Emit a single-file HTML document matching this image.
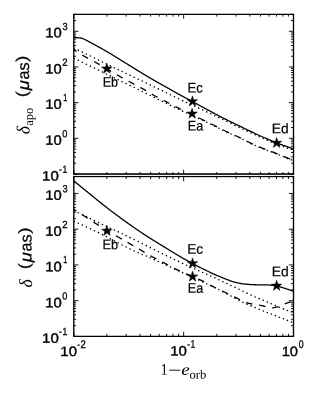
<!DOCTYPE html>
<html><head><meta charset="utf-8"><title>chart</title>
<style>
html,body{margin:0;padding:0;background:#fff;}
body{width:320px;height:400px;overflow:hidden;font-family:"Liberation Sans",sans-serif;}
svg{display:block;will-change:transform;}
text{font-kerning:none;}
</style></head><body>
<svg width="320" height="400" viewBox="0 0 320 400">
<defs>
<clipPath id="c1"><rect x="73.80" y="14.30" width="219.70" height="159.65"/></clipPath>
<clipPath id="c2"><rect x="73.80" y="176.40" width="219.70" height="160.00"/></clipPath>
</defs>
<rect width="320" height="400" fill="#fff"/>
<g clip-path="url(#c1)">
<path d="M73.80 37.50 L74.35 37.53 L74.90 37.57 L75.45 37.60 L76.00 37.64 L76.56 37.68 L77.11 37.73 L77.66 37.77 L78.21 37.82 L78.76 37.86 L79.31 37.91 L79.86 37.96 L80.41 38.02 L80.96 38.09 L81.51 38.21 L82.07 38.37 L82.62 38.56 L83.17 38.76 L83.72 38.99 L84.27 39.25 L84.82 39.51 L85.37 39.78 L85.92 40.07 L86.47 40.37 L87.02 40.66 L87.58 40.95 L88.13 41.24 L88.68 41.53 L89.23 41.83 L89.78 42.12 L90.33 42.41 L90.88 42.70 L91.43 43.00 L91.98 43.29 L92.53 43.59 L93.09 43.88 L93.64 44.18 L94.19 44.47 L94.74 44.77 L95.29 45.07 L95.84 45.37 L96.39 45.67 L96.94 45.97 L97.49 46.27 L98.04 46.58 L98.60 46.88 L99.15 47.19 L99.70 47.50 L100.25 47.81 L100.80 48.12 L101.35 48.43 L101.90 48.74 L102.45 49.06 L103.00 49.37 L103.55 49.69 L104.11 50.01 L104.66 50.33 L105.21 50.65 L105.76 50.96 L106.31 51.29 L106.86 51.61 L107.41 51.93 L107.96 52.25 L108.51 52.58 L109.06 52.90 L109.62 53.23 L110.17 53.56 L110.72 53.88 L111.27 54.21 L111.82 54.54 L112.37 54.87 L112.92 55.20 L113.47 55.54 L114.02 55.87 L114.57 56.21 L115.13 56.55 L115.68 56.89 L116.23 57.23 L116.78 57.57 L117.33 57.91 L117.88 58.25 L118.43 58.59 L118.98 58.93 L119.53 59.27 L120.08 59.61 L120.64 59.96 L121.19 60.30 L121.74 60.64 L122.29 60.98 L122.84 61.32 L123.39 61.66 L123.94 62.00 L124.49 62.34 L125.04 62.68 L125.59 63.03 L126.15 63.37 L126.70 63.71 L127.25 64.05 L127.80 64.40 L128.35 64.74 L128.90 65.08 L129.45 65.42 L130.00 65.76 L130.55 66.11 L131.10 66.45 L131.66 66.79 L132.21 67.13 L132.76 67.47 L133.31 67.81 L133.86 68.15 L134.41 68.49 L134.96 68.83 L135.51 69.17 L136.06 69.51 L136.61 69.85 L137.17 70.19 L137.72 70.53 L138.27 70.87 L138.82 71.21 L139.37 71.55 L139.92 71.89 L140.47 72.22 L141.02 72.56 L141.57 72.89 L142.12 73.23 L142.68 73.56 L143.23 73.89 L143.78 74.22 L144.33 74.55 L144.88 74.89 L145.43 75.22 L145.98 75.55 L146.53 75.88 L147.08 76.20 L147.63 76.53 L148.19 76.86 L148.74 77.19 L149.29 77.51 L149.84 77.84 L150.39 78.16 L150.94 78.48 L151.49 78.80 L152.04 79.12 L152.59 79.44 L153.14 79.76 L153.70 80.08 L154.25 80.40 L154.80 80.71 L155.35 81.03 L155.90 81.34 L156.45 81.66 L157.00 81.97 L157.55 82.28 L158.10 82.60 L158.65 82.91 L159.21 83.22 L159.76 83.53 L160.31 83.84 L160.86 84.15 L161.41 84.46 L161.96 84.77 L162.51 85.08 L163.06 85.39 L163.61 85.70 L164.16 86.01 L164.72 86.32 L165.27 86.62 L165.82 86.93 L166.37 87.24 L166.92 87.55 L167.47 87.87 L168.02 88.18 L168.57 88.49 L169.12 88.80 L169.67 89.11 L170.23 89.42 L170.78 89.73 L171.33 90.04 L171.88 90.36 L172.43 90.67 L172.98 90.98 L173.53 91.29 L174.08 91.60 L174.63 91.91 L175.18 92.22 L175.74 92.53 L176.29 92.84 L176.84 93.15 L177.39 93.45 L177.94 93.76 L178.49 94.07 L179.04 94.37 L179.59 94.68 L180.14 94.98 L180.69 95.29 L181.25 95.59 L181.80 95.89 L182.35 96.19 L182.90 96.49 L183.45 96.78 L184.00 97.08 L184.55 97.37 L185.10 97.66 L185.65 97.96 L186.20 98.25 L186.76 98.54 L187.31 98.83 L187.86 99.12 L188.41 99.42 L188.96 99.71 L189.51 100.01 L190.06 100.30 L190.61 100.60 L191.16 100.90 L191.71 101.20 L192.27 101.49 L192.82 101.79 L193.37 102.09 L193.92 102.39 L194.47 102.69 L195.02 102.99 L195.57 103.29 L196.12 103.59 L196.67 103.89 L197.22 104.19 L197.78 104.49 L198.33 104.79 L198.88 105.09 L199.43 105.39 L199.98 105.68 L200.53 105.98 L201.08 106.28 L201.63 106.58 L202.18 106.87 L202.73 107.17 L203.29 107.47 L203.84 107.77 L204.39 108.07 L204.94 108.36 L205.49 108.66 L206.04 108.96 L206.59 109.26 L207.14 109.56 L207.69 109.86 L208.24 110.16 L208.80 110.46 L209.35 110.75 L209.90 111.05 L210.45 111.35 L211.00 111.65 L211.55 111.94 L212.10 112.24 L212.65 112.54 L213.20 112.83 L213.75 113.13 L214.31 113.42 L214.86 113.71 L215.41 114.01 L215.96 114.30 L216.51 114.59 L217.06 114.88 L217.61 115.17 L218.16 115.46 L218.71 115.75 L219.26 116.04 L219.82 116.33 L220.37 116.61 L220.92 116.89 L221.47 117.18 L222.02 117.46 L222.57 117.74 L223.12 118.02 L223.67 118.30 L224.22 118.58 L224.77 118.85 L225.33 119.13 L225.88 119.41 L226.43 119.68 L226.98 119.95 L227.53 120.23 L228.08 120.50 L228.63 120.77 L229.18 121.04 L229.73 121.31 L230.28 121.58 L230.84 121.85 L231.39 122.12 L231.94 122.39 L232.49 122.66 L233.04 122.93 L233.59 123.19 L234.14 123.46 L234.69 123.73 L235.24 123.99 L235.79 124.26 L236.35 124.52 L236.90 124.79 L237.45 125.06 L238.00 125.32 L238.55 125.59 L239.10 125.85 L239.65 126.12 L240.20 126.38 L240.75 126.65 L241.30 126.91 L241.86 127.18 L242.41 127.45 L242.96 127.71 L243.51 127.98 L244.06 128.24 L244.61 128.51 L245.16 128.78 L245.71 129.04 L246.26 129.31 L246.81 129.57 L247.37 129.83 L247.92 130.10 L248.47 130.36 L249.02 130.63 L249.57 130.89 L250.12 131.15 L250.67 131.41 L251.22 131.67 L251.77 131.94 L252.32 132.20 L252.88 132.46 L253.43 132.71 L253.98 132.97 L254.53 133.23 L255.08 133.49 L255.63 133.74 L256.18 134.00 L256.73 134.25 L257.28 134.51 L257.83 134.76 L258.39 135.02 L258.94 135.27 L259.49 135.52 L260.04 135.77 L260.59 136.02 L261.14 136.27 L261.69 136.51 L262.24 136.76 L262.79 137.00 L263.34 137.25 L263.90 137.49 L264.45 137.74 L265.00 137.98 L265.55 138.22 L266.10 138.46 L266.65 138.71 L267.20 138.95 L267.75 139.18 L268.30 139.42 L268.85 139.66 L269.41 139.90 L269.96 140.13 L270.51 140.36 L271.06 140.60 L271.61 140.83 L272.16 141.06 L272.71 141.28 L273.26 141.51 L273.81 141.73 L274.36 141.95 L274.92 142.18 L275.47 142.40 L276.02 142.62 L276.57 142.84 L277.12 143.05 L277.67 143.27 L278.22 143.48 L278.77 143.70 L279.32 143.91 L279.87 144.12 L280.43 144.32 L280.98 144.53 L281.53 144.73 L282.08 144.93 L282.63 145.13 L283.18 145.32 L283.73 145.52 L284.28 145.71 L284.83 145.91 L285.38 146.10 L285.94 146.29 L286.49 146.48 L287.04 146.67 L287.59 146.85 L288.14 147.04 L288.69 147.22 L289.24 147.40 L289.79 147.58 L290.34 147.76 L290.89 147.94 L291.45 148.12 L292.00 148.29 L292.55 148.46 L293.10 148.63 L293.65 148.80" fill="none" stroke="#000" stroke-width="1.30" />
<circle cx="74.27" cy="48.23" r="0.80" fill="#000"/>
<circle cx="78.30" cy="50.14" r="0.80" fill="#000"/>
<circle cx="82.33" cy="52.08" r="0.80" fill="#000"/>
<circle cx="86.37" cy="54.05" r="0.80" fill="#000"/>
<circle cx="90.40" cy="56.03" r="0.80" fill="#000"/>
<circle cx="94.43" cy="58.02" r="0.80" fill="#000"/>
<circle cx="98.47" cy="60.02" r="0.80" fill="#000"/>
<circle cx="102.45" cy="61.99" r="0.80" fill="#000"/>
<circle cx="106.39" cy="63.94" r="0.80" fill="#000"/>
<circle cx="110.33" cy="65.87" r="0.80" fill="#000"/>
<circle cx="114.27" cy="67.78" r="0.80" fill="#000"/>
<circle cx="118.21" cy="69.68" r="0.80" fill="#000"/>
<circle cx="122.15" cy="71.57" r="0.80" fill="#000"/>
<circle cx="126.10" cy="73.45" r="0.80" fill="#000"/>
<circle cx="130.13" cy="75.37" r="0.80" fill="#000"/>
<circle cx="134.16" cy="77.29" r="0.80" fill="#000"/>
<circle cx="138.20" cy="79.20" r="0.80" fill="#000"/>
<circle cx="142.23" cy="81.12" r="0.80" fill="#000"/>
<circle cx="146.26" cy="83.05" r="0.80" fill="#000"/>
<circle cx="150.29" cy="84.98" r="0.80" fill="#000"/>
<circle cx="154.33" cy="86.93" r="0.80" fill="#000"/>
<circle cx="158.36" cy="88.89" r="0.80" fill="#000"/>
<circle cx="162.39" cy="90.85" r="0.80" fill="#000"/>
<circle cx="166.43" cy="92.82" r="0.80" fill="#000"/>
<circle cx="170.46" cy="94.79" r="0.80" fill="#000"/>
<circle cx="174.49" cy="96.76" r="0.80" fill="#000"/>
<circle cx="178.53" cy="98.71" r="0.80" fill="#000"/>
<circle cx="182.56" cy="100.64" r="0.80" fill="#000"/>
<circle cx="186.59" cy="102.56" r="0.80" fill="#000"/>
<circle cx="190.62" cy="104.44" r="0.80" fill="#000"/>
<circle cx="194.66" cy="106.29" r="0.80" fill="#000"/>
<circle cx="198.69" cy="108.15" r="0.80" fill="#000"/>
<circle cx="202.72" cy="110.02" r="0.80" fill="#000"/>
<circle cx="206.76" cy="111.90" r="0.80" fill="#000"/>
<circle cx="210.79" cy="113.79" r="0.80" fill="#000"/>
<circle cx="214.82" cy="115.68" r="0.80" fill="#000"/>
<circle cx="218.86" cy="117.59" r="0.80" fill="#000"/>
<circle cx="222.89" cy="119.52" r="0.80" fill="#000"/>
<circle cx="226.92" cy="121.48" r="0.80" fill="#000"/>
<circle cx="230.95" cy="123.44" r="0.80" fill="#000"/>
<circle cx="234.99" cy="125.40" r="0.80" fill="#000"/>
<circle cx="239.02" cy="127.33" r="0.80" fill="#000"/>
<circle cx="243.05" cy="129.25" r="0.80" fill="#000"/>
<circle cx="247.09" cy="131.14" r="0.80" fill="#000"/>
<circle cx="251.12" cy="133.02" r="0.80" fill="#000"/>
<circle cx="255.15" cy="134.87" r="0.80" fill="#000"/>
<circle cx="259.19" cy="136.71" r="0.80" fill="#000"/>
<circle cx="263.22" cy="138.55" r="0.80" fill="#000"/>
<circle cx="267.25" cy="140.36" r="0.80" fill="#000"/>
<circle cx="271.28" cy="142.09" r="0.80" fill="#000"/>
<circle cx="275.32" cy="143.72" r="0.80" fill="#000"/>
<circle cx="279.35" cy="145.27" r="0.80" fill="#000"/>
<circle cx="283.38" cy="146.75" r="0.80" fill="#000"/>
<circle cx="287.42" cy="148.16" r="0.80" fill="#000"/>
<circle cx="291.45" cy="149.50" r="0.80" fill="#000"/>
<circle cx="74.27" cy="58.43" r="0.80" fill="#000"/>
<circle cx="78.30" cy="60.33" r="0.80" fill="#000"/>
<circle cx="82.33" cy="62.27" r="0.80" fill="#000"/>
<circle cx="86.37" cy="64.21" r="0.80" fill="#000"/>
<circle cx="90.40" cy="66.16" r="0.80" fill="#000"/>
<circle cx="94.43" cy="68.12" r="0.80" fill="#000"/>
<circle cx="98.47" cy="70.09" r="0.80" fill="#000"/>
<circle cx="102.45" cy="72.04" r="0.80" fill="#000"/>
<circle cx="106.39" cy="73.96" r="0.80" fill="#000"/>
<circle cx="110.33" cy="75.89" r="0.80" fill="#000"/>
<circle cx="114.27" cy="77.82" r="0.80" fill="#000"/>
<circle cx="118.21" cy="79.75" r="0.80" fill="#000"/>
<circle cx="122.15" cy="81.68" r="0.80" fill="#000"/>
<circle cx="126.10" cy="83.61" r="0.80" fill="#000"/>
<circle cx="130.13" cy="85.58" r="0.80" fill="#000"/>
<circle cx="134.16" cy="87.55" r="0.80" fill="#000"/>
<circle cx="138.20" cy="89.53" r="0.80" fill="#000"/>
<circle cx="142.23" cy="91.51" r="0.80" fill="#000"/>
<circle cx="146.26" cy="93.51" r="0.80" fill="#000"/>
<circle cx="150.29" cy="95.53" r="0.80" fill="#000"/>
<circle cx="154.33" cy="97.57" r="0.80" fill="#000"/>
<circle cx="158.36" cy="99.57" r="0.80" fill="#000"/>
<circle cx="162.39" cy="101.55" r="0.80" fill="#000"/>
<circle cx="166.43" cy="103.51" r="0.80" fill="#000"/>
<circle cx="170.46" cy="105.45" r="0.80" fill="#000"/>
<circle cx="174.49" cy="107.37" r="0.80" fill="#000"/>
<circle cx="178.53" cy="109.28" r="0.80" fill="#000"/>
<circle cx="182.56" cy="111.16" r="0.80" fill="#000"/>
<circle cx="186.59" cy="112.99" r="0.80" fill="#000"/>
<circle cx="190.62" cy="114.79" r="0.80" fill="#000"/>
<circle cx="194.66" cy="116.58" r="0.80" fill="#000"/>
<circle cx="198.69" cy="118.39" r="0.80" fill="#000"/>
<circle cx="202.72" cy="120.26" r="0.80" fill="#000"/>
<circle cx="206.76" cy="122.21" r="0.80" fill="#000"/>
<circle cx="210.79" cy="124.21" r="0.80" fill="#000"/>
<circle cx="214.82" cy="126.21" r="0.80" fill="#000"/>
<circle cx="218.86" cy="128.22" r="0.80" fill="#000"/>
<circle cx="222.89" cy="130.22" r="0.80" fill="#000"/>
<circle cx="226.92" cy="132.17" r="0.80" fill="#000"/>
<circle cx="230.95" cy="134.00" r="0.80" fill="#000"/>
<circle cx="234.99" cy="135.77" r="0.80" fill="#000"/>
<circle cx="239.02" cy="137.58" r="0.80" fill="#000"/>
<circle cx="243.05" cy="139.54" r="0.80" fill="#000"/>
<circle cx="247.09" cy="141.62" r="0.80" fill="#000"/>
<circle cx="251.12" cy="143.68" r="0.80" fill="#000"/>
<circle cx="255.15" cy="145.57" r="0.80" fill="#000"/>
<circle cx="259.19" cy="147.26" r="0.80" fill="#000"/>
<circle cx="263.22" cy="148.84" r="0.80" fill="#000"/>
<circle cx="267.25" cy="150.36" r="0.80" fill="#000"/>
<circle cx="271.28" cy="151.87" r="0.80" fill="#000"/>
<circle cx="275.32" cy="153.43" r="0.80" fill="#000"/>
<circle cx="279.35" cy="155.07" r="0.80" fill="#000"/>
<circle cx="283.38" cy="156.74" r="0.80" fill="#000"/>
<circle cx="287.42" cy="158.38" r="0.80" fill="#000"/>
<circle cx="291.45" cy="159.90" r="0.80" fill="#000"/>
<path d="M74.00 49.90 L74.55 50.24 L75.10 50.59 L75.65 50.93 L76.20 51.27 L76.75 51.61 L77.30 51.95 L77.85 52.29 L78.40 52.63 L78.95 52.97 L79.51 53.31 L80.06 53.65 L80.61 53.99 L81.16 54.34 L81.71 54.68 L82.26 55.02 L82.81 55.36 L83.36 55.69 L83.91 56.02 L84.46 56.35 L85.01 56.67 L85.56 56.99 L86.11 57.30 L86.66 57.61 L87.21 57.92 L87.76 58.22 L88.31 58.52 L88.86 58.81 L89.41 59.11 L89.96 59.40 L90.52 59.69 L91.07 59.98 L91.62 60.27 L92.17 60.55 L92.72 60.84 L93.27 61.13 L93.82 61.42 L94.37 61.71 L94.92 62.00 L95.47 62.30 L96.02 62.60 L96.57 62.90 L97.12 63.20 L97.67 63.51 L98.22 63.82 L98.77 64.13 L99.32 64.44 L99.87 64.75 L100.42 65.07 L100.97 65.39 L101.53 65.70 L102.08 66.02 L102.63 66.34 L103.18 66.66 L103.73 66.99 L104.28 67.31 L104.83 67.63 L105.38 67.96 L105.93 68.28 L106.48 68.61 L107.03 68.94 L107.58 69.26 L108.13 69.59 L108.68 69.92 L109.23 70.24 L109.78 70.57 L110.33 70.90 L110.88 71.22 L111.43 71.55 L111.98 71.88 L112.54 72.20 L113.09 72.53 L113.64 72.85 L114.19 73.17 L114.74 73.50 L115.29 73.82 L115.84 74.14 L116.39 74.46 L116.94 74.77 L117.49 75.09 L118.04 75.40 L118.59 75.72 L119.14 76.03 L119.69 76.34 L120.24 76.65 L120.79 76.95 L121.34 77.26 L121.89 77.56 L122.44 77.87 L122.99 78.17 L123.55 78.47 L124.10 78.77 L124.65 79.07 L125.20 79.37 L125.75 79.67 L126.30 79.96 L126.85 80.26 L127.40 80.56 L127.95 80.86 L128.50 81.15 L129.05 81.45 L129.60 81.74 L130.15 82.04 L130.70 82.34 L131.25 82.63 L131.80 82.93 L132.35 83.23 L132.90 83.53 L133.45 83.82 L134.00 84.12 L134.56 84.41 L135.11 84.70 L135.66 84.99 L136.21 85.29 L136.76 85.58 L137.31 85.87 L137.86 86.16 L138.41 86.45 L138.96 86.75 L139.51 87.04 L140.06 87.33 L140.61 87.63 L141.16 87.93 L141.71 88.23 L142.26 88.53 L142.81 88.83 L143.36 89.13 L143.91 89.44 L144.46 89.75 L145.01 90.06 L145.57 90.38 L146.12 90.70 L146.67 91.03 L147.22 91.35 L147.77 91.68 L148.32 92.01 L148.87 92.34 L149.42 92.68 L149.97 93.01 L150.52 93.34 L151.07 93.67 L151.62 94.00 L152.17 94.32 L152.72 94.65 L153.27 94.97 L153.82 95.28 L154.37 95.60 L154.92 95.90 L155.47 96.21 L156.02 96.50 L156.58 96.80 L157.13 97.09 L157.68 97.38 L158.23 97.67 L158.78 97.96 L159.33 98.24 L159.88 98.52 L160.43 98.81 L160.98 99.09 L161.53 99.37 L162.08 99.64 L162.63 99.92 L163.18 100.20 L163.73 100.48 L164.28 100.76 L164.83 101.04 L165.38 101.32 L165.93 101.60 L166.48 101.88 L167.03 102.17 L167.59 102.46 L168.14 102.74 L168.69 103.03 L169.24 103.32 L169.79 103.61 L170.34 103.90 L170.89 104.19 L171.44 104.48 L171.99 104.77 L172.54 105.06 L173.09 105.35 L173.64 105.64 L174.19 105.93 L174.74 106.21 L175.29 106.50 L175.84 106.79 L176.39 107.07 L176.94 107.35 L177.49 107.64 L178.04 107.92 L178.60 108.20 L179.15 108.47 L179.70 108.75 L180.25 109.02 L180.80 109.29 L181.35 109.57 L181.90 109.84 L182.45 110.10 L183.00 110.37 L183.55 110.64 L184.10 110.91 L184.65 111.17 L185.20 111.44 L185.75 111.70 L186.30 111.96 L186.85 112.22 L187.40 112.49 L187.95 112.75 L188.50 113.01 L189.05 113.27 L189.61 113.53 L190.16 113.79 L190.71 114.05 L191.26 114.31 L191.81 114.56 L192.36 114.82 L192.91 115.08 L193.46 115.34 L194.01 115.60 L194.56 115.86 L195.11 116.12 L195.66 116.38 L196.21 116.64 L196.76 116.90 L197.31 117.16 L197.86 117.42 L198.41 117.68 L198.96 117.95 L199.51 118.21 L200.06 118.47 L200.62 118.74 L201.17 119.00 L201.72 119.27 L202.27 119.54 L202.82 119.81 L203.37 120.08 L203.92 120.35 L204.47 120.62 L205.02 120.89 L205.57 121.16 L206.12 121.43 L206.67 121.70 L207.22 121.98 L207.77 122.25 L208.32 122.52 L208.87 122.80 L209.42 123.07 L209.97 123.35 L210.52 123.62 L211.07 123.90 L211.63 124.17 L212.18 124.44 L212.73 124.72 L213.28 124.99 L213.83 125.27 L214.38 125.54 L214.93 125.81 L215.48 126.09 L216.03 126.36 L216.58 126.64 L217.13 126.92 L217.68 127.19 L218.23 127.47 L218.78 127.75 L219.33 128.03 L219.88 128.30 L220.43 128.58 L220.98 128.86 L221.53 129.13 L222.08 129.41 L222.64 129.68 L223.19 129.96 L223.74 130.23 L224.29 130.50 L224.84 130.77 L225.39 131.03 L225.94 131.30 L226.49 131.56 L227.04 131.82 L227.59 132.08 L228.14 132.34 L228.69 132.59 L229.24 132.84 L229.79 133.09 L230.34 133.33 L230.89 133.58 L231.44 133.82 L231.99 134.06 L232.54 134.30 L233.09 134.55 L233.65 134.79 L234.20 135.03 L234.75 135.27 L235.30 135.51 L235.85 135.75 L236.40 136.00 L236.95 136.24 L237.50 136.49 L238.05 136.74 L238.60 136.99 L239.15 137.24 L239.70 137.50 L240.25 137.76 L240.80 138.03 L241.35 138.30 L241.90 138.57 L242.45 138.84 L243.00 139.12 L243.55 139.40 L244.10 139.68 L244.66 139.96 L245.21 140.25 L245.76 140.53 L246.31 140.82 L246.86 141.10 L247.41 141.39 L247.96 141.67 L248.51 141.96 L249.06 142.24 L249.61 142.52 L250.16 142.80 L250.71 143.07 L251.26 143.35 L251.81 143.62 L252.36 143.88 L252.91 144.15 L253.46 144.40 L254.01 144.66 L254.56 144.91 L255.11 145.15 L255.67 145.39 L256.22 145.63 L256.77 145.86 L257.32 146.09 L257.87 146.32 L258.42 146.55 L258.97 146.77 L259.52 147.00 L260.07 147.22 L260.62 147.43 L261.17 147.65 L261.72 147.86 L262.27 148.08 L262.82 148.29 L263.37 148.50 L263.92 148.71 L264.47 148.92 L265.02 149.13 L265.57 149.33 L266.12 149.54 L266.68 149.75 L267.23 149.95 L267.78 150.16 L268.33 150.36 L268.88 150.57 L269.43 150.77 L269.98 150.98 L270.53 151.19 L271.08 151.40 L271.63 151.60 L272.18 151.81 L272.73 152.02 L273.28 152.23 L273.83 152.45 L274.38 152.66 L274.93 152.88 L275.48 153.09 L276.03 153.31 L276.58 153.53 L277.13 153.76 L277.69 153.98 L278.24 154.21 L278.79 154.43 L279.34 154.66 L279.89 154.89 L280.44 155.12 L280.99 155.35 L281.54 155.58 L282.09 155.81 L282.64 156.04 L283.19 156.26 L283.74 156.49 L284.29 156.72 L284.84 156.94 L285.39 157.17 L285.94 157.39 L286.49 157.61 L287.04 157.83 L287.59 158.05 L288.14 158.26 L288.70 158.48 L289.25 158.68 L289.80 158.89 L290.35 159.10 L290.90 159.30 L291.45 159.50 L292.00 159.71 L292.55 159.90 L293.10 160.10 L293.65 160.30" fill="none" stroke="#000" stroke-width="1.30" stroke-dasharray="6.50 6.80" stroke-dashoffset="3.50" />
</g>
<g clip-path="url(#c2)">
<path d="M74.00 181.00 L74.55 181.45 L75.10 181.91 L75.65 182.36 L76.20 182.81 L76.75 183.27 L77.30 183.72 L77.85 184.17 L78.40 184.62 L78.95 185.07 L79.51 185.53 L80.06 185.98 L80.61 186.43 L81.16 186.88 L81.71 187.33 L82.26 187.78 L82.81 188.23 L83.36 188.68 L83.91 189.13 L84.46 189.58 L85.01 190.03 L85.56 190.48 L86.11 190.93 L86.66 191.38 L87.21 191.83 L87.76 192.28 L88.31 192.73 L88.86 193.17 L89.41 193.62 L89.96 194.07 L90.52 194.52 L91.07 194.97 L91.62 195.42 L92.17 195.87 L92.72 196.31 L93.27 196.76 L93.82 197.21 L94.37 197.66 L94.92 198.11 L95.47 198.56 L96.02 199.01 L96.57 199.45 L97.12 199.90 L97.67 200.35 L98.22 200.79 L98.77 201.24 L99.32 201.68 L99.87 202.12 L100.42 202.57 L100.97 203.01 L101.53 203.45 L102.08 203.88 L102.63 204.32 L103.18 204.76 L103.73 205.19 L104.28 205.63 L104.83 206.06 L105.38 206.49 L105.93 206.93 L106.48 207.36 L107.03 207.79 L107.58 208.22 L108.13 208.65 L108.68 209.07 L109.23 209.50 L109.78 209.92 L110.33 210.34 L110.88 210.76 L111.43 211.17 L111.98 211.59 L112.54 212.00 L113.09 212.41 L113.64 212.82 L114.19 213.23 L114.74 213.64 L115.29 214.05 L115.84 214.46 L116.39 214.87 L116.94 215.28 L117.49 215.69 L118.04 216.09 L118.59 216.50 L119.14 216.90 L119.69 217.31 L120.24 217.71 L120.79 218.12 L121.34 218.52 L121.89 218.92 L122.44 219.32 L122.99 219.72 L123.55 220.12 L124.10 220.52 L124.65 220.92 L125.20 221.31 L125.75 221.71 L126.30 222.11 L126.85 222.50 L127.40 222.90 L127.95 223.29 L128.50 223.68 L129.05 224.07 L129.60 224.46 L130.15 224.85 L130.70 225.24 L131.25 225.63 L131.80 226.02 L132.35 226.40 L132.90 226.79 L133.45 227.17 L134.00 227.55 L134.56 227.94 L135.11 228.32 L135.66 228.70 L136.21 229.08 L136.76 229.46 L137.31 229.83 L137.86 230.21 L138.41 230.58 L138.96 230.96 L139.51 231.33 L140.06 231.70 L140.61 232.07 L141.16 232.44 L141.71 232.81 L142.26 233.17 L142.81 233.54 L143.36 233.90 L143.91 234.26 L144.46 234.62 L145.01 234.98 L145.57 235.34 L146.12 235.69 L146.67 236.05 L147.22 236.40 L147.77 236.75 L148.32 237.10 L148.87 237.45 L149.42 237.80 L149.97 238.15 L150.52 238.49 L151.07 238.84 L151.62 239.18 L152.17 239.52 L152.72 239.87 L153.27 240.21 L153.82 240.55 L154.37 240.89 L154.92 241.23 L155.47 241.57 L156.02 241.91 L156.58 242.25 L157.13 242.59 L157.68 242.93 L158.23 243.27 L158.78 243.61 L159.33 243.95 L159.88 244.29 L160.43 244.63 L160.98 244.97 L161.53 245.31 L162.08 245.65 L162.63 245.99 L163.18 246.33 L163.73 246.67 L164.28 247.01 L164.83 247.35 L165.38 247.69 L165.93 248.03 L166.48 248.37 L167.03 248.71 L167.59 249.04 L168.14 249.38 L168.69 249.72 L169.24 250.05 L169.79 250.39 L170.34 250.73 L170.89 251.06 L171.44 251.40 L171.99 251.73 L172.54 252.06 L173.09 252.40 L173.64 252.73 L174.19 253.06 L174.74 253.39 L175.29 253.73 L175.84 254.06 L176.39 254.39 L176.94 254.72 L177.49 255.05 L178.04 255.38 L178.60 255.70 L179.15 256.03 L179.70 256.36 L180.25 256.68 L180.80 257.01 L181.35 257.33 L181.90 257.64 L182.45 257.96 L183.00 258.27 L183.55 258.58 L184.10 258.88 L184.65 259.19 L185.20 259.49 L185.75 259.79 L186.30 260.09 L186.85 260.39 L187.40 260.69 L187.95 260.99 L188.50 261.29 L189.05 261.59 L189.61 261.89 L190.16 262.18 L190.71 262.48 L191.26 262.78 L191.81 263.08 L192.36 263.38 L192.91 263.68 L193.46 263.97 L194.01 264.27 L194.56 264.56 L195.11 264.85 L195.66 265.15 L196.21 265.44 L196.76 265.73 L197.31 266.01 L197.86 266.30 L198.41 266.58 L198.96 266.87 L199.51 267.15 L200.06 267.43 L200.62 267.71 L201.17 267.99 L201.72 268.27 L202.27 268.54 L202.82 268.82 L203.37 269.09 L203.92 269.36 L204.47 269.63 L205.02 269.90 L205.57 270.17 L206.12 270.44 L206.67 270.71 L207.22 270.97 L207.77 271.24 L208.32 271.50 L208.87 271.77 L209.42 272.03 L209.97 272.29 L210.52 272.55 L211.07 272.81 L211.63 273.07 L212.18 273.32 L212.73 273.58 L213.28 273.83 L213.83 274.08 L214.38 274.32 L214.93 274.57 L215.48 274.81 L216.03 275.05 L216.58 275.29 L217.13 275.53 L217.68 275.77 L218.23 276.01 L218.78 276.24 L219.33 276.47 L219.88 276.70 L220.43 276.93 L220.98 277.16 L221.53 277.38 L222.08 277.61 L222.64 277.83 L223.19 278.05 L223.74 278.26 L224.29 278.48 L224.84 278.69 L225.39 278.90 L225.94 279.11 L226.49 279.32 L227.04 279.54 L227.59 279.75 L228.14 279.97 L228.69 280.18 L229.24 280.39 L229.79 280.59 L230.34 280.80 L230.89 281.00 L231.44 281.19 L231.99 281.38 L232.54 281.55 L233.09 281.73 L233.65 281.89 L234.20 282.04 L234.75 282.19 L235.30 282.32 L235.85 282.45 L236.40 282.58 L236.95 282.71 L237.50 282.83 L238.05 282.96 L238.60 283.07 L239.15 283.19 L239.70 283.30 L240.25 283.41 L240.80 283.51 L241.35 283.60 L241.90 283.70 L242.45 283.78 L243.00 283.86 L243.55 283.94 L244.10 284.00 L244.66 284.07 L245.21 284.12 L245.76 284.17 L246.31 284.22 L246.86 284.27 L247.41 284.32 L247.96 284.37 L248.51 284.41 L249.06 284.45 L249.61 284.49 L250.16 284.53 L250.71 284.57 L251.26 284.60 L251.81 284.63 L252.36 284.66 L252.91 284.68 L253.46 284.71 L254.01 284.72 L254.56 284.74 L255.11 284.75 L255.67 284.76 L256.22 284.77 L256.77 284.78 L257.32 284.79 L257.87 284.79 L258.42 284.80 L258.97 284.80 L259.52 284.81 L260.07 284.81 L260.62 284.82 L261.17 284.82 L261.72 284.83 L262.27 284.83 L262.82 284.83 L263.37 284.84 L263.92 284.84 L264.47 284.85 L265.02 284.86 L265.57 284.86 L266.12 284.87 L266.68 284.88 L267.23 284.89 L267.78 284.91 L268.33 284.93 L268.88 284.96 L269.43 285.00 L269.98 285.05 L270.53 285.10 L271.08 285.17 L271.63 285.23 L272.18 285.31 L272.73 285.39 L273.28 285.47 L273.83 285.55 L274.38 285.64 L274.93 285.73 L275.48 285.83 L276.03 285.92 L276.58 286.01 L277.13 286.12 L277.69 286.23 L278.24 286.36 L278.79 286.50 L279.34 286.64 L279.89 286.80 L280.44 286.96 L280.99 287.12 L281.54 287.29 L282.09 287.47 L282.64 287.65 L283.19 287.82 L283.74 288.00 L284.29 288.18 L284.84 288.35 L285.39 288.52 L285.94 288.70 L286.49 288.87 L287.04 289.05 L287.59 289.24 L288.14 289.42 L288.70 289.61 L289.25 289.80 L289.80 289.99 L290.35 290.19 L290.90 290.38 L291.45 290.58 L292.00 290.78 L292.55 290.99 L293.10 291.19 L293.65 291.40" fill="none" stroke="#000" stroke-width="1.30" />
<circle cx="74.27" cy="210.83" r="0.80" fill="#000"/>
<circle cx="78.30" cy="212.74" r="0.80" fill="#000"/>
<circle cx="82.33" cy="214.70" r="0.80" fill="#000"/>
<circle cx="86.37" cy="216.67" r="0.80" fill="#000"/>
<circle cx="90.40" cy="218.65" r="0.80" fill="#000"/>
<circle cx="94.43" cy="220.63" r="0.80" fill="#000"/>
<circle cx="98.47" cy="222.60" r="0.80" fill="#000"/>
<circle cx="102.45" cy="224.53" r="0.80" fill="#000"/>
<circle cx="106.39" cy="226.40" r="0.80" fill="#000"/>
<circle cx="110.33" cy="228.25" r="0.80" fill="#000"/>
<circle cx="114.27" cy="230.09" r="0.80" fill="#000"/>
<circle cx="118.21" cy="231.92" r="0.80" fill="#000"/>
<circle cx="122.15" cy="233.78" r="0.80" fill="#000"/>
<circle cx="126.10" cy="235.66" r="0.80" fill="#000"/>
<circle cx="130.13" cy="237.62" r="0.80" fill="#000"/>
<circle cx="134.16" cy="239.61" r="0.80" fill="#000"/>
<circle cx="138.20" cy="241.61" r="0.80" fill="#000"/>
<circle cx="142.23" cy="243.62" r="0.80" fill="#000"/>
<circle cx="146.26" cy="245.63" r="0.80" fill="#000"/>
<circle cx="150.29" cy="247.66" r="0.80" fill="#000"/>
<circle cx="154.33" cy="249.69" r="0.80" fill="#000"/>
<circle cx="158.36" cy="251.71" r="0.80" fill="#000"/>
<circle cx="162.39" cy="253.70" r="0.80" fill="#000"/>
<circle cx="166.43" cy="255.66" r="0.80" fill="#000"/>
<circle cx="170.46" cy="257.60" r="0.80" fill="#000"/>
<circle cx="174.49" cy="259.51" r="0.80" fill="#000"/>
<circle cx="178.53" cy="261.42" r="0.80" fill="#000"/>
<circle cx="182.56" cy="263.33" r="0.80" fill="#000"/>
<circle cx="186.59" cy="265.22" r="0.80" fill="#000"/>
<circle cx="190.62" cy="267.11" r="0.80" fill="#000"/>
<circle cx="194.66" cy="268.97" r="0.80" fill="#000"/>
<circle cx="198.69" cy="270.80" r="0.80" fill="#000"/>
<circle cx="202.72" cy="272.56" r="0.80" fill="#000"/>
<circle cx="206.76" cy="274.29" r="0.80" fill="#000"/>
<circle cx="210.79" cy="276.03" r="0.80" fill="#000"/>
<circle cx="214.82" cy="277.85" r="0.80" fill="#000"/>
<circle cx="218.86" cy="279.80" r="0.80" fill="#000"/>
<circle cx="222.89" cy="281.70" r="0.80" fill="#000"/>
<circle cx="226.92" cy="283.58" r="0.80" fill="#000"/>
<circle cx="230.95" cy="285.45" r="0.80" fill="#000"/>
<circle cx="234.99" cy="287.33" r="0.80" fill="#000"/>
<circle cx="239.02" cy="289.23" r="0.80" fill="#000"/>
<circle cx="243.05" cy="291.18" r="0.80" fill="#000"/>
<circle cx="247.09" cy="293.15" r="0.80" fill="#000"/>
<circle cx="251.12" cy="295.09" r="0.80" fill="#000"/>
<circle cx="255.15" cy="296.93" r="0.80" fill="#000"/>
<circle cx="259.19" cy="298.66" r="0.80" fill="#000"/>
<circle cx="263.22" cy="300.35" r="0.80" fill="#000"/>
<circle cx="267.25" cy="302.08" r="0.80" fill="#000"/>
<circle cx="271.28" cy="303.80" r="0.80" fill="#000"/>
<circle cx="275.32" cy="305.51" r="0.80" fill="#000"/>
<circle cx="279.35" cy="307.20" r="0.80" fill="#000"/>
<circle cx="283.38" cy="308.88" r="0.80" fill="#000"/>
<circle cx="287.42" cy="310.49" r="0.80" fill="#000"/>
<circle cx="291.45" cy="312.01" r="0.80" fill="#000"/>
<circle cx="74.27" cy="221.28" r="0.80" fill="#000"/>
<circle cx="78.30" cy="223.19" r="0.80" fill="#000"/>
<circle cx="82.33" cy="225.09" r="0.80" fill="#000"/>
<circle cx="86.37" cy="226.98" r="0.80" fill="#000"/>
<circle cx="90.40" cy="228.86" r="0.80" fill="#000"/>
<circle cx="94.43" cy="230.75" r="0.80" fill="#000"/>
<circle cx="98.47" cy="232.67" r="0.80" fill="#000"/>
<circle cx="102.45" cy="234.62" r="0.80" fill="#000"/>
<circle cx="106.39" cy="236.60" r="0.80" fill="#000"/>
<circle cx="110.33" cy="238.69" r="0.80" fill="#000"/>
<circle cx="114.27" cy="240.87" r="0.80" fill="#000"/>
<circle cx="118.21" cy="242.98" r="0.80" fill="#000"/>
<circle cx="122.15" cy="245.01" r="0.80" fill="#000"/>
<circle cx="126.10" cy="247.02" r="0.80" fill="#000"/>
<circle cx="130.13" cy="249.02" r="0.80" fill="#000"/>
<circle cx="134.16" cy="250.96" r="0.80" fill="#000"/>
<circle cx="138.20" cy="252.79" r="0.80" fill="#000"/>
<circle cx="142.23" cy="254.46" r="0.80" fill="#000"/>
<circle cx="146.26" cy="256.06" r="0.80" fill="#000"/>
<circle cx="150.29" cy="257.81" r="0.80" fill="#000"/>
<circle cx="154.33" cy="259.64" r="0.80" fill="#000"/>
<circle cx="158.36" cy="261.49" r="0.80" fill="#000"/>
<circle cx="162.39" cy="263.35" r="0.80" fill="#000"/>
<circle cx="166.43" cy="265.23" r="0.80" fill="#000"/>
<circle cx="170.46" cy="267.11" r="0.80" fill="#000"/>
<circle cx="174.49" cy="268.98" r="0.80" fill="#000"/>
<circle cx="178.53" cy="270.83" r="0.80" fill="#000"/>
<circle cx="182.56" cy="272.67" r="0.80" fill="#000"/>
<circle cx="186.59" cy="274.50" r="0.80" fill="#000"/>
<circle cx="190.62" cy="276.33" r="0.80" fill="#000"/>
<circle cx="194.66" cy="278.17" r="0.80" fill="#000"/>
<circle cx="198.69" cy="280.02" r="0.80" fill="#000"/>
<circle cx="202.72" cy="281.90" r="0.80" fill="#000"/>
<circle cx="206.76" cy="283.80" r="0.80" fill="#000"/>
<circle cx="210.79" cy="285.73" r="0.80" fill="#000"/>
<circle cx="214.82" cy="287.69" r="0.80" fill="#000"/>
<circle cx="218.86" cy="289.72" r="0.80" fill="#000"/>
<circle cx="222.89" cy="291.82" r="0.80" fill="#000"/>
<circle cx="226.92" cy="293.96" r="0.80" fill="#000"/>
<circle cx="230.95" cy="296.08" r="0.80" fill="#000"/>
<circle cx="234.99" cy="298.22" r="0.80" fill="#000"/>
<circle cx="239.02" cy="300.35" r="0.80" fill="#000"/>
<circle cx="243.05" cy="302.34" r="0.80" fill="#000"/>
<circle cx="247.09" cy="304.17" r="0.80" fill="#000"/>
<circle cx="251.12" cy="305.91" r="0.80" fill="#000"/>
<circle cx="255.15" cy="307.62" r="0.80" fill="#000"/>
<circle cx="259.19" cy="309.31" r="0.80" fill="#000"/>
<circle cx="263.22" cy="310.95" r="0.80" fill="#000"/>
<circle cx="267.25" cy="312.52" r="0.80" fill="#000"/>
<circle cx="271.28" cy="314.06" r="0.80" fill="#000"/>
<circle cx="275.32" cy="315.61" r="0.80" fill="#000"/>
<circle cx="279.35" cy="317.19" r="0.80" fill="#000"/>
<circle cx="283.38" cy="318.78" r="0.80" fill="#000"/>
<circle cx="287.42" cy="320.39" r="0.80" fill="#000"/>
<circle cx="291.45" cy="322.01" r="0.80" fill="#000"/>
<path d="M74.00 209.50 L74.55 209.84 L75.10 210.18 L75.65 210.52 L76.20 210.86 L76.75 211.21 L77.30 211.55 L77.85 211.89 L78.40 212.24 L78.95 212.59 L79.51 212.93 L80.06 213.28 L80.61 213.63 L81.16 213.98 L81.71 214.33 L82.26 214.68 L82.81 215.03 L83.36 215.38 L83.91 215.73 L84.46 216.09 L85.01 216.44 L85.56 216.80 L86.11 217.16 L86.66 217.52 L87.21 217.88 L87.76 218.25 L88.31 218.61 L88.86 218.98 L89.41 219.35 L89.96 219.72 L90.52 220.08 L91.07 220.45 L91.62 220.82 L92.17 221.19 L92.72 221.55 L93.27 221.92 L93.82 222.28 L94.37 222.64 L94.92 222.99 L95.47 223.35 L96.02 223.70 L96.57 224.05 L97.12 224.39 L97.67 224.74 L98.22 225.08 L98.77 225.43 L99.32 225.77 L99.87 226.11 L100.42 226.45 L100.97 226.79 L101.53 227.13 L102.08 227.47 L102.63 227.80 L103.18 228.14 L103.73 228.47 L104.28 228.81 L104.83 229.14 L105.38 229.47 L105.93 229.81 L106.48 230.14 L107.03 230.47 L107.58 230.80 L108.13 231.13 L108.68 231.45 L109.23 231.78 L109.78 232.11 L110.33 232.44 L110.88 232.76 L111.43 233.09 L111.98 233.41 L112.54 233.74 L113.09 234.06 L113.64 234.39 L114.19 234.71 L114.74 235.04 L115.29 235.36 L115.84 235.68 L116.39 236.00 L116.94 236.33 L117.49 236.65 L118.04 236.97 L118.59 237.29 L119.14 237.62 L119.69 237.94 L120.24 238.25 L120.79 238.57 L121.34 238.89 L121.89 239.20 L122.44 239.52 L122.99 239.83 L123.55 240.15 L124.10 240.46 L124.65 240.77 L125.20 241.08 L125.75 241.40 L126.30 241.71 L126.85 242.02 L127.40 242.33 L127.95 242.65 L128.50 242.96 L129.05 243.28 L129.60 243.59 L130.15 243.91 L130.70 244.22 L131.25 244.54 L131.80 244.86 L132.35 245.18 L132.90 245.50 L133.45 245.82 L134.00 246.15 L134.56 246.47 L135.11 246.79 L135.66 247.12 L136.21 247.44 L136.76 247.77 L137.31 248.09 L137.86 248.42 L138.41 248.74 L138.96 249.07 L139.51 249.39 L140.06 249.72 L140.61 250.05 L141.16 250.37 L141.71 250.70 L142.26 251.02 L142.81 251.34 L143.36 251.67 L143.91 251.99 L144.46 252.31 L145.01 252.63 L145.57 252.95 L146.12 253.27 L146.67 253.59 L147.22 253.91 L147.77 254.22 L148.32 254.54 L148.87 254.85 L149.42 255.16 L149.97 255.47 L150.52 255.78 L151.07 256.09 L151.62 256.40 L152.17 256.70 L152.72 257.00 L153.27 257.30 L153.82 257.60 L154.37 257.90 L154.92 258.19 L155.47 258.48 L156.02 258.77 L156.58 259.06 L157.13 259.34 L157.68 259.63 L158.23 259.91 L158.78 260.20 L159.33 260.48 L159.88 260.76 L160.43 261.04 L160.98 261.32 L161.53 261.61 L162.08 261.89 L162.63 262.17 L163.18 262.45 L163.73 262.74 L164.28 263.02 L164.83 263.31 L165.38 263.60 L165.93 263.89 L166.48 264.18 L167.03 264.47 L167.59 264.77 L168.14 265.06 L168.69 265.36 L169.24 265.66 L169.79 265.95 L170.34 266.25 L170.89 266.55 L171.44 266.84 L171.99 267.14 L172.54 267.43 L173.09 267.72 L173.64 268.01 L174.19 268.29 L174.74 268.57 L175.29 268.85 L175.84 269.13 L176.39 269.40 L176.94 269.67 L177.49 269.94 L178.04 270.20 L178.60 270.46 L179.15 270.71 L179.70 270.97 L180.25 271.22 L180.80 271.47 L181.35 271.71 L181.90 271.96 L182.45 272.20 L183.00 272.44 L183.55 272.68 L184.10 272.91 L184.65 273.15 L185.20 273.38 L185.75 273.62 L186.30 273.85 L186.85 274.08 L187.40 274.31 L187.95 274.54 L188.50 274.77 L189.05 275.00 L189.61 275.23 L190.16 275.46 L190.71 275.69 L191.26 275.92 L191.81 276.16 L192.36 276.39 L192.91 276.62 L193.46 276.86 L194.01 277.09 L194.56 277.33 L195.11 277.57 L195.66 277.81 L196.21 278.05 L196.76 278.29 L197.31 278.54 L197.86 278.79 L198.41 279.04 L198.96 279.29 L199.51 279.55 L200.06 279.80 L200.62 280.07 L201.17 280.33 L201.72 280.60 L202.27 280.88 L202.82 281.15 L203.37 281.44 L203.92 281.72 L204.47 282.01 L205.02 282.31 L205.57 282.60 L206.12 282.90 L206.67 283.19 L207.22 283.49 L207.77 283.79 L208.32 284.09 L208.87 284.38 L209.42 284.68 L209.97 284.98 L210.52 285.27 L211.07 285.56 L211.63 285.85 L212.18 286.13 L212.73 286.41 L213.28 286.69 L213.83 286.96 L214.38 287.24 L214.93 287.51 L215.48 287.78 L216.03 288.04 L216.58 288.31 L217.13 288.58 L217.68 288.84 L218.23 289.10 L218.78 289.37 L219.33 289.63 L219.88 289.89 L220.43 290.15 L220.98 290.42 L221.53 290.68 L222.08 290.94 L222.64 291.20 L223.19 291.47 L223.74 291.73 L224.29 292.00 L224.84 292.27 L225.39 292.54 L225.94 292.81 L226.49 293.08 L227.04 293.35 L227.59 293.63 L228.14 293.90 L228.69 294.17 L229.24 294.45 L229.79 294.72 L230.34 295.00 L230.89 295.27 L231.44 295.55 L231.99 295.82 L232.54 296.09 L233.09 296.36 L233.65 296.63 L234.20 296.90 L234.75 297.16 L235.30 297.42 L235.85 297.68 L236.40 297.94 L236.95 298.19 L237.50 298.45 L238.05 298.71 L238.60 298.98 L239.15 299.25 L239.70 299.53 L240.25 299.80 L240.80 300.08 L241.35 300.35 L241.90 300.62 L242.45 300.89 L243.00 301.15 L243.55 301.41 L244.10 301.66 L244.66 301.90 L245.21 302.14 L245.76 302.36 L246.31 302.57 L246.86 302.77 L247.41 302.95 L247.96 303.12 L248.51 303.28 L249.06 303.41 L249.61 303.54 L250.16 303.65 L250.71 303.75 L251.26 303.85 L251.81 303.94 L252.36 304.03 L252.91 304.11 L253.46 304.20 L254.01 304.28 L254.56 304.36 L255.11 304.45 L255.67 304.54 L256.22 304.64 L256.77 304.74 L257.32 304.83 L257.87 304.93 L258.42 305.02 L258.97 305.12 L259.52 305.22 L260.07 305.32 L260.62 305.42 L261.17 305.53 L261.72 305.64 L262.27 305.75 L262.82 305.87 L263.37 306.00 L263.92 306.14 L264.47 306.29 L265.02 306.44 L265.57 306.60 L266.12 306.75 L266.68 306.89 L267.23 307.03 L267.78 307.15 L268.33 307.27 L268.88 307.40 L269.43 307.53 L269.98 307.65 L270.53 307.76 L271.08 307.84 L271.63 307.89 L272.18 307.90 L272.73 307.86 L273.28 307.79 L273.83 307.70 L274.38 307.59 L274.93 307.47 L275.48 307.36 L276.03 307.24 L276.58 307.09 L277.13 306.93 L277.69 306.76 L278.24 306.59 L278.79 306.40 L279.34 306.20 L279.89 305.99 L280.44 305.76 L280.99 305.52 L281.54 305.27 L282.09 305.02 L282.64 304.77 L283.19 304.52 L283.74 304.28 L284.29 304.05 L284.84 303.83 L285.39 303.63 L285.94 303.43 L286.49 303.24 L287.04 303.04 L287.59 302.85 L288.14 302.67 L288.70 302.48 L289.25 302.30 L289.80 302.13 L290.35 301.95 L290.90 301.78 L291.45 301.62 L292.00 301.46 L292.55 301.30 L293.10 301.15 L293.65 301.00" fill="none" stroke="#000" stroke-width="1.30" stroke-dasharray="6.50 6.80" stroke-dashoffset="3.60" />
</g>
<polygon points="106.80,63.20 108.05,67.03 112.08,67.03 108.82,69.41 110.06,73.24 106.80,70.87 103.54,73.24 104.78,69.41 101.52,67.03 105.55,67.03" fill="#000" stroke="#000" stroke-width="0.5" stroke-linejoin="miter"/>
<polygon points="192.40,95.90 193.65,99.73 197.68,99.73 194.42,102.11 195.66,105.94 192.40,103.57 189.14,105.94 190.38,102.11 187.12,99.73 191.15,99.73" fill="#000" stroke="#000" stroke-width="0.5" stroke-linejoin="miter"/>
<polygon points="192.10,108.20 193.35,112.03 197.38,112.03 194.12,114.41 195.36,118.24 192.10,115.87 188.84,118.24 190.08,114.41 186.82,112.03 190.85,112.03" fill="#000" stroke="#000" stroke-width="0.5" stroke-linejoin="miter"/>
<polygon points="276.60,137.45 277.85,141.28 281.88,141.28 278.62,143.66 279.86,147.49 276.60,145.12 273.34,147.49 274.58,143.66 271.32,141.28 275.35,141.28" fill="#000" stroke="#000" stroke-width="0.5" stroke-linejoin="miter"/>
<polygon points="106.90,225.40 108.15,229.23 112.18,229.23 108.92,231.61 110.16,235.44 106.90,233.07 103.64,235.44 104.88,231.61 101.62,229.23 105.65,229.23" fill="#000" stroke="#000" stroke-width="0.5" stroke-linejoin="miter"/>
<polygon points="192.50,257.90 193.75,261.73 197.78,261.73 194.52,264.11 195.76,267.94 192.50,265.57 189.24,267.94 190.48,264.11 187.22,261.73 191.25,261.73" fill="#000" stroke="#000" stroke-width="0.5" stroke-linejoin="miter"/>
<polygon points="192.55,271.10 193.80,274.93 197.83,274.93 194.57,277.31 195.81,281.14 192.55,278.77 189.29,281.14 190.53,277.31 187.27,274.93 191.30,274.93" fill="#000" stroke="#000" stroke-width="0.5" stroke-linejoin="miter"/>
<polygon points="276.60,280.25 277.85,284.08 281.88,284.08 278.62,286.46 279.86,290.29 276.60,287.92 273.34,290.29 274.58,286.46 271.32,284.08 275.35,284.08" fill="#000" stroke="#000" stroke-width="0.5" stroke-linejoin="miter"/>
<path d="M73.80 174.85V14.30H293.50V174.85" fill="none" stroke="#000" stroke-width="1.35" stroke-linecap="butt"/>
<rect x="73.12" y="173.25" width="221.05" height="1.58" fill="#000"/>
<path d="M73.80 175.95V336.40H293.50V175.95" fill="none" stroke="#000" stroke-width="1.35" stroke-linecap="butt"/>
<rect x="73.12" y="175.95" width="221.05" height="1.22" fill="#000"/>
<path d="M73.80 173.95H78.40M293.50 173.95H288.90M73.80 163.22H76.10M293.50 163.22H290.95M73.80 156.94H76.10M293.50 156.94H290.95M73.80 152.48H76.10M293.50 152.48H290.95M73.80 149.03H76.10M293.50 149.03H290.95M73.80 146.20H76.10M293.50 146.20H290.95M73.80 143.81H76.10M293.50 143.81H290.95M73.80 141.75H76.10M293.50 141.75H290.95M73.80 139.92H76.10M293.50 139.92H290.95M73.80 138.29H78.40M293.50 138.29H288.90M73.80 127.56H76.10M293.50 127.56H290.95M73.80 121.28H76.10M293.50 121.28H290.95M73.80 116.82H76.10M293.50 116.82H290.95M73.80 113.37H76.10M293.50 113.37H290.95M73.80 110.54H76.10M293.50 110.54H290.95M73.80 108.16H76.10M293.50 108.16H290.95M73.80 106.09H76.10M293.50 106.09H290.95M73.80 104.26H76.10M293.50 104.26H290.95M73.80 102.63H78.40M293.50 102.63H288.90M73.80 91.90H76.10M293.50 91.90H290.95M73.80 85.62H76.10M293.50 85.62H290.95M73.80 81.16H76.10M293.50 81.16H290.95M73.80 77.71H76.10M293.50 77.71H290.95M73.80 74.88H76.10M293.50 74.88H290.95M73.80 72.50H76.10M293.50 72.50H290.95M73.80 70.43H76.10M293.50 70.43H290.95M73.80 68.60H76.10M293.50 68.60H290.95M73.80 66.97H78.40M293.50 66.97H288.90M73.80 56.24H76.10M293.50 56.24H290.95M73.80 49.96H76.10M293.50 49.96H290.95M73.80 45.50H76.10M293.50 45.50H290.95M73.80 42.05H76.10M293.50 42.05H290.95M73.80 39.22H76.10M293.50 39.22H290.95M73.80 36.84H76.10M293.50 36.84H290.95M73.80 34.77H76.10M293.50 34.77H290.95M73.80 32.95H76.10M293.50 32.95H290.95M73.80 31.31H78.40M293.50 31.31H288.90M73.80 20.58H76.10M293.50 20.58H290.95M73.80 14.30H76.10M293.50 14.30H290.95M73.80 14.30V18.70M73.80 173.95V169.75M106.87 14.30V16.60M106.87 173.95V172.00M126.21 14.30V16.60M126.21 173.95V172.00M139.94 14.30V16.60M139.94 173.95V172.00M150.58 14.30V16.60M150.58 173.95V172.00M159.28 14.30V16.60M159.28 173.95V172.00M166.63 14.30V16.60M166.63 173.95V172.00M173.00 14.30V16.60M173.00 173.95V172.00M178.62 14.30V16.60M178.62 173.95V172.00M183.65 14.30V18.70M183.65 173.95V169.75M216.72 14.30V16.60M216.72 173.95V172.00M236.06 14.30V16.60M236.06 173.95V172.00M249.79 14.30V16.60M249.79 173.95V172.00M260.43 14.30V16.60M260.43 173.95V172.00M269.13 14.30V16.60M269.13 173.95V172.00M276.48 14.30V16.60M276.48 173.95V172.00M282.85 14.30V16.60M282.85 173.95V172.00M288.47 14.30V16.60M288.47 173.95V172.00M293.50 14.30V18.70M293.50 173.95V169.75M73.80 336.40H78.40M293.50 336.40H288.90M73.80 325.64H76.10M293.50 325.64H290.95M73.80 319.35H76.10M293.50 319.35H290.95M73.80 314.88H76.10M293.50 314.88H290.95M73.80 311.42H76.10M293.50 311.42H290.95M73.80 308.59H76.10M293.50 308.59H290.95M73.80 306.20H76.10M293.50 306.20H290.95M73.80 304.13H76.10M293.50 304.13H290.95M73.80 302.30H76.10M293.50 302.30H290.95M73.80 300.66H78.40M293.50 300.66H288.90M73.80 289.90H76.10M293.50 289.90H290.95M73.80 283.61H76.10M293.50 283.61H290.95M73.80 279.15H76.10M293.50 279.15H290.95M73.80 275.68H76.10M293.50 275.68H290.95M73.80 272.85H76.10M293.50 272.85H290.95M73.80 270.46H76.10M293.50 270.46H290.95M73.80 268.39H76.10M293.50 268.39H290.95M73.80 266.56H76.10M293.50 266.56H290.95M73.80 264.93H78.40M293.50 264.93H288.90M73.80 254.17H76.10M293.50 254.17H290.95M73.80 247.87H76.10M293.50 247.87H290.95M73.80 243.41H76.10M293.50 243.41H290.95M73.80 239.95H76.10M293.50 239.95H290.95M73.80 237.12H76.10M293.50 237.12H290.95M73.80 234.72H76.10M293.50 234.72H290.95M73.80 232.65H76.10M293.50 232.65H290.95M73.80 230.82H76.10M293.50 230.82H290.95M73.80 229.19H78.40M293.50 229.19H288.90M73.80 218.43H76.10M293.50 218.43H290.95M73.80 212.14H76.10M293.50 212.14H290.95M73.80 207.67H76.10M293.50 207.67H290.95M73.80 204.21H76.10M293.50 204.21H290.95M73.80 201.38H76.10M293.50 201.38H290.95M73.80 198.99H76.10M293.50 198.99H290.95M73.80 196.91H76.10M293.50 196.91H290.95M73.80 195.09H76.10M293.50 195.09H290.95M73.80 193.45H78.40M293.50 193.45H288.90M73.80 182.69H76.10M293.50 182.69H290.95M73.80 176.40H76.10M293.50 176.40H290.95M73.80 176.40V181.30M73.80 336.40V331.70M106.87 176.40V179.10M106.87 336.40V333.80M126.21 176.40V179.10M126.21 336.40V333.80M139.94 176.40V179.10M139.94 336.40V333.80M150.58 176.40V179.10M150.58 336.40V333.80M159.28 176.40V179.10M159.28 336.40V333.80M166.63 176.40V179.10M166.63 336.40V333.80M173.00 176.40V179.10M173.00 336.40V333.80M178.62 176.40V179.10M178.62 336.40V333.80M183.65 176.40V181.30M183.65 336.40V331.70M216.72 176.40V179.10M216.72 336.40V333.80M236.06 176.40V179.10M236.06 336.40V333.80M249.79 176.40V179.10M249.79 336.40V333.80M260.43 176.40V179.10M260.43 336.40V333.80M269.13 176.40V179.10M269.13 336.40V333.80M276.48 176.40V179.10M276.48 336.40V333.80M282.85 176.40V179.10M282.85 336.40V333.80M288.47 176.40V179.10M288.47 336.40V333.80M293.50 176.40V181.30M293.50 336.40V331.70" stroke="#000" stroke-width="0.90" fill="none"/>
<text x="45.27" y="37.35" font-size="13.60" font-family="Liberation Sans, sans-serif" textLength="16.51" lengthAdjust="spacingAndGlyphs" stroke="#000" stroke-width="0.36" transform="rotate(0.04 53.80 37.35)">10</text>
<text x="62.45" y="30.05" font-size="10.30" font-family="Liberation Sans, sans-serif" textLength="5.16" lengthAdjust="spacingAndGlyphs" stroke="#000" stroke-width="0.30" transform="rotate(0.04 65.00 30.05)">3</text>
<text x="45.27" y="73.45" font-size="13.60" font-family="Liberation Sans, sans-serif" textLength="16.51" lengthAdjust="spacingAndGlyphs" stroke="#000" stroke-width="0.36" transform="rotate(0.04 53.80 73.45)">10</text>
<text x="62.21" y="65.75" font-size="10.30" font-family="Liberation Sans, sans-serif" textLength="5.37" lengthAdjust="spacingAndGlyphs" stroke="#000" stroke-width="0.30" transform="rotate(0.04 64.90 65.75)">2</text>
<text x="45.27" y="108.85" font-size="13.60" font-family="Liberation Sans, sans-serif" textLength="16.51" lengthAdjust="spacingAndGlyphs" stroke="#000" stroke-width="0.36" transform="rotate(0.04 53.80 108.85)">10</text>
<text x="63.15" y="101.05" font-size="10.30" font-family="Liberation Sans, sans-serif" textLength="4.00" lengthAdjust="spacingAndGlyphs" stroke="#000" stroke-width="0.30" transform="rotate(0.04 65.25 101.05)">1</text>
<text x="45.27" y="144.85" font-size="13.60" font-family="Liberation Sans, sans-serif" textLength="16.51" lengthAdjust="spacingAndGlyphs" stroke="#000" stroke-width="0.36" transform="rotate(0.04 53.80 144.85)">10</text>
<text x="62.34" y="137.15" font-size="10.30" font-family="Liberation Sans, sans-serif" textLength="5.12" lengthAdjust="spacingAndGlyphs" stroke="#000" stroke-width="0.30" transform="rotate(0.04 64.90 137.15)">0</text>
<text x="42.05" y="180.45" font-size="13.60" font-family="Liberation Sans, sans-serif" textLength="16.73" lengthAdjust="spacingAndGlyphs" stroke="#000" stroke-width="0.36" transform="rotate(0.04 50.70 180.45)">10</text>
<text x="59.04" y="172.65" font-size="10.30" font-family="Liberation Sans, sans-serif" textLength="2.73" lengthAdjust="spacingAndGlyphs" stroke="#000" stroke-width="0.30" transform="rotate(0.04 60.40 172.65)">-</text>
<text x="62.45" y="172.65" font-size="10.30" font-family="Liberation Sans, sans-serif" textLength="4.77" lengthAdjust="spacingAndGlyphs" stroke="#000" stroke-width="0.30" transform="rotate(0.04 64.95 172.65)">1</text>
<text x="45.27" y="199.65" font-size="13.60" font-family="Liberation Sans, sans-serif" textLength="16.51" lengthAdjust="spacingAndGlyphs" stroke="#000" stroke-width="0.36" transform="rotate(0.04 53.80 199.65)">10</text>
<text x="62.45" y="192.35" font-size="10.30" font-family="Liberation Sans, sans-serif" textLength="5.16" lengthAdjust="spacingAndGlyphs" stroke="#000" stroke-width="0.30" transform="rotate(0.04 65.00 192.35)">3</text>
<text x="45.27" y="235.65" font-size="13.60" font-family="Liberation Sans, sans-serif" textLength="16.51" lengthAdjust="spacingAndGlyphs" stroke="#000" stroke-width="0.36" transform="rotate(0.04 53.80 235.65)">10</text>
<text x="62.21" y="227.95" font-size="10.30" font-family="Liberation Sans, sans-serif" textLength="5.37" lengthAdjust="spacingAndGlyphs" stroke="#000" stroke-width="0.30" transform="rotate(0.04 64.90 227.95)">2</text>
<text x="45.27" y="271.15" font-size="13.60" font-family="Liberation Sans, sans-serif" textLength="16.51" lengthAdjust="spacingAndGlyphs" stroke="#000" stroke-width="0.36" transform="rotate(0.04 53.80 271.15)">10</text>
<text x="63.15" y="263.35" font-size="10.30" font-family="Liberation Sans, sans-serif" textLength="4.00" lengthAdjust="spacingAndGlyphs" stroke="#000" stroke-width="0.30" transform="rotate(0.04 65.25 263.35)">1</text>
<text x="45.27" y="307.15" font-size="13.60" font-family="Liberation Sans, sans-serif" textLength="16.51" lengthAdjust="spacingAndGlyphs" stroke="#000" stroke-width="0.36" transform="rotate(0.04 53.80 307.15)">10</text>
<text x="62.34" y="299.45" font-size="10.30" font-family="Liberation Sans, sans-serif" textLength="5.12" lengthAdjust="spacingAndGlyphs" stroke="#000" stroke-width="0.30" transform="rotate(0.04 64.90 299.45)">0</text>
<text x="42.05" y="342.85" font-size="13.60" font-family="Liberation Sans, sans-serif" textLength="16.73" lengthAdjust="spacingAndGlyphs" stroke="#000" stroke-width="0.36" transform="rotate(0.04 50.70 342.85)">10</text>
<text x="59.04" y="335.05" font-size="10.30" font-family="Liberation Sans, sans-serif" textLength="2.73" lengthAdjust="spacingAndGlyphs" stroke="#000" stroke-width="0.30" transform="rotate(0.04 60.40 335.05)">-</text>
<text x="62.45" y="335.05" font-size="10.30" font-family="Liberation Sans, sans-serif" textLength="4.77" lengthAdjust="spacingAndGlyphs" stroke="#000" stroke-width="0.30" transform="rotate(0.04 64.95 335.05)">1</text>
<text x="60.36" y="355.90" font-size="13.60" font-family="Liberation Sans, sans-serif" textLength="16.62" lengthAdjust="spacingAndGlyphs" stroke="#000" stroke-width="0.36" transform="rotate(0.04 68.95 355.90)">10</text>
<text x="77.34" y="348.00" font-size="11.00" font-family="Liberation Sans, sans-serif" textLength="2.73" lengthAdjust="spacingAndGlyphs" stroke="#000" stroke-width="0.30" transform="rotate(0.04 78.70 348.00)">-</text>
<text x="80.41" y="348.00" font-size="11.00" font-family="Liberation Sans, sans-serif" textLength="5.37" lengthAdjust="spacingAndGlyphs" stroke="#000" stroke-width="0.30" transform="rotate(0.04 83.10 348.00)">2</text>
<text x="170.15" y="355.60" font-size="13.60" font-family="Liberation Sans, sans-serif" textLength="16.73" lengthAdjust="spacingAndGlyphs" stroke="#000" stroke-width="0.36" transform="rotate(0.04 178.80 355.60)">10</text>
<text x="187.34" y="347.80" font-size="11.00" font-family="Liberation Sans, sans-serif" textLength="2.73" lengthAdjust="spacingAndGlyphs" stroke="#000" stroke-width="0.30" transform="rotate(0.04 188.70 347.80)">-</text>
<text x="190.55" y="347.80" font-size="11.00" font-family="Liberation Sans, sans-serif" textLength="4.77" lengthAdjust="spacingAndGlyphs" stroke="#000" stroke-width="0.30" transform="rotate(0.04 193.05 347.80)">1</text>
<text x="281.68" y="355.90" font-size="13.60" font-family="Liberation Sans, sans-serif" textLength="16.40" lengthAdjust="spacingAndGlyphs" stroke="#000" stroke-width="0.36" transform="rotate(0.04 290.15 355.90)">10</text>
<text x="298.86" y="347.90" font-size="11.00" font-family="Liberation Sans, sans-serif" textLength="4.89" lengthAdjust="spacingAndGlyphs" stroke="#000" stroke-width="0.30" transform="rotate(0.04 301.30 347.90)">0</text>
<text x="102.66" y="86.70" font-size="13.90" font-family="Liberation Sans, sans-serif" textLength="15.47" lengthAdjust="spacingAndGlyphs" stroke="#000" stroke-width="0.20" transform="rotate(0.04 110.65 86.70)">Eb</text>
<text x="187.52" y="92.50" font-size="13.90" font-family="Liberation Sans, sans-serif" textLength="15.32" lengthAdjust="spacingAndGlyphs" stroke="#000" stroke-width="0.20" transform="rotate(0.04 195.55 92.50)">Ec</text>
<text x="187.86" y="130.45" font-size="13.90" font-family="Liberation Sans, sans-serif" textLength="15.44" lengthAdjust="spacingAndGlyphs" stroke="#000" stroke-width="0.20" transform="rotate(0.04 196.10 130.45)">Ea</text>
<text x="271.77" y="133.35" font-size="13.90" font-family="Liberation Sans, sans-serif" textLength="16.81" lengthAdjust="spacingAndGlyphs" stroke="#000" stroke-width="0.20" transform="rotate(0.04 280.30 133.35)">Ed</text>
<text x="102.55" y="249.20" font-size="13.90" font-family="Liberation Sans, sans-serif" textLength="15.69" lengthAdjust="spacingAndGlyphs" stroke="#000" stroke-width="0.20" transform="rotate(0.04 110.65 249.20)">Eb</text>
<text x="187.17" y="253.80" font-size="13.90" font-family="Liberation Sans, sans-serif" textLength="16.10" lengthAdjust="spacingAndGlyphs" stroke="#000" stroke-width="0.20" transform="rotate(0.04 195.60 253.80)">Ec</text>
<text x="187.66" y="292.70" font-size="13.90" font-family="Liberation Sans, sans-serif" textLength="15.54" lengthAdjust="spacingAndGlyphs" stroke="#000" stroke-width="0.20" transform="rotate(0.04 195.95 292.70)">Ea</text>
<text x="271.66" y="276.15" font-size="13.90" font-family="Liberation Sans, sans-serif" textLength="16.93" lengthAdjust="spacingAndGlyphs" stroke="#000" stroke-width="0.20" transform="rotate(0.04 280.25 276.15)">Ed</text>
<g transform="translate(29.00 134.00) rotate(-90)">
<text x="-0.22" y="0.60" font-size="18.50" font-family="Liberation Serif, serif" font-style="italic" textLength="8.18" lengthAdjust="spacingAndGlyphs" transform="rotate(0.04 4.25 0.60)">δ</text>
<text x="8.16" y="4.10" font-size="12.50" font-family="Liberation Serif, serif" textLength="18.12" lengthAdjust="spacingAndGlyphs" transform="rotate(0.04 17.20 4.10)">apo</text>
<text x="36.70" y="-2.00" font-size="15.70" font-family="Liberation Sans, sans-serif" textLength="6.15" lengthAdjust="spacingAndGlyphs" stroke="#000" stroke-width="0.20" transform="rotate(0.04 40.30 -2.00)">(</text>
<text x="43.74" y="0.00" font-size="16.40" font-family="Liberation Sans, sans-serif" font-style="italic" textLength="10.11" lengthAdjust="spacingAndGlyphs" stroke="#000" stroke-width="0.20" transform="rotate(0.04 48.45 0.00)">μ</text>
<text x="54.56" y="0.00" font-size="16.40" font-family="Liberation Sans, sans-serif" textLength="17.18" lengthAdjust="spacingAndGlyphs" stroke="#000" stroke-width="0.20" transform="rotate(0.04 63.20 0.00)">as</text>
<text x="72.14" y="-2.00" font-size="15.70" font-family="Liberation Sans, sans-serif" textLength="6.41" lengthAdjust="spacingAndGlyphs" stroke="#000" stroke-width="0.20" transform="rotate(0.04 74.80 -2.00)">)</text>
</g>
<g transform="translate(31.50 287.20) rotate(-90)">
<text x="-0.22" y="0.40" font-size="18.50" font-family="Liberation Serif, serif" font-style="italic" textLength="8.18" lengthAdjust="spacingAndGlyphs" transform="rotate(0.04 4.25 0.40)">δ</text>
<text x="17.90" y="-2.00" font-size="15.70" font-family="Liberation Sans, sans-serif" textLength="6.15" lengthAdjust="spacingAndGlyphs" stroke="#000" stroke-width="0.20" transform="rotate(0.04 21.50 -2.00)">(</text>
<text x="24.94" y="0.00" font-size="16.40" font-family="Liberation Sans, sans-serif" font-style="italic" textLength="10.11" lengthAdjust="spacingAndGlyphs" stroke="#000" stroke-width="0.20" transform="rotate(0.04 29.65 0.00)">μ</text>
<text x="35.76" y="0.00" font-size="16.40" font-family="Liberation Sans, sans-serif" textLength="17.18" lengthAdjust="spacingAndGlyphs" stroke="#000" stroke-width="0.20" transform="rotate(0.04 44.40 0.00)">as</text>
<text x="53.34" y="-2.00" font-size="15.70" font-family="Liberation Sans, sans-serif" textLength="6.41" lengthAdjust="spacingAndGlyphs" stroke="#000" stroke-width="0.20" transform="rotate(0.04 56.00 -2.00)">)</text>
</g>
<text x="160.80" y="374.80" font-size="16.20" font-family="Liberation Serif, serif" textLength="6.82" lengthAdjust="spacingAndGlyphs" transform="rotate(0.04 164.40 374.80)">1</text>
<path d="M169.3 370.2H180.2" stroke="#000" stroke-width="0.9"/>
<text x="181.21" y="374.80" font-size="16.00" font-family="Liberation Serif, serif" font-style="italic" textLength="8.52" lengthAdjust="spacingAndGlyphs" transform="rotate(0.04 185.55 374.80)">e</text>
<text x="189.52" y="378.50" font-size="12.00" font-family="Liberation Serif, serif" textLength="16.76" lengthAdjust="spacingAndGlyphs" transform="rotate(0.04 197.90 378.50)">orb</text>
</svg>
</body></html>
